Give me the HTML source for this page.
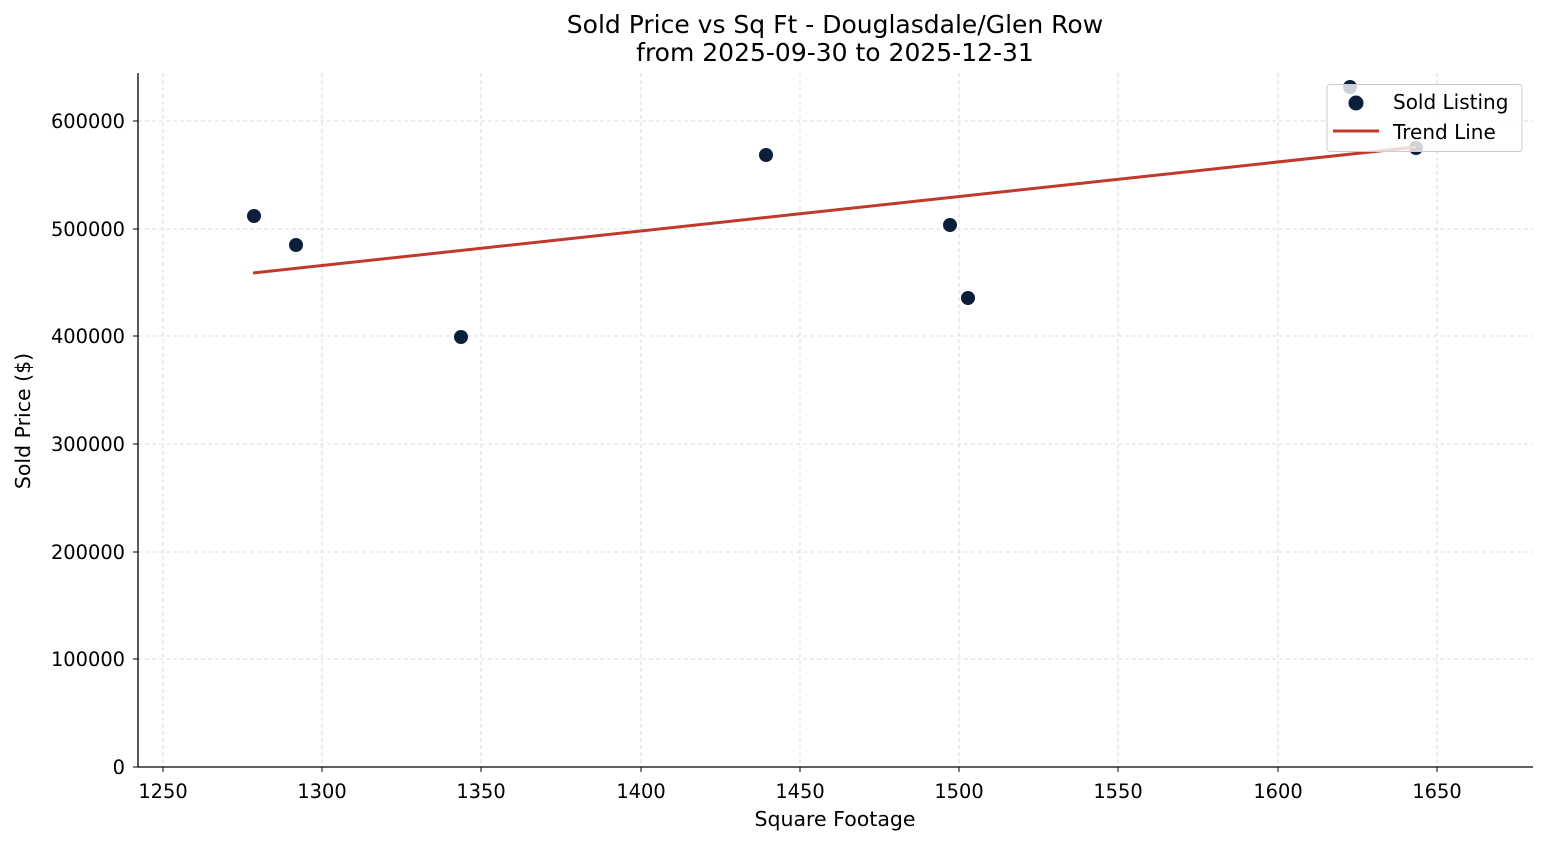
<!DOCTYPE html>
<html><head><meta charset="utf-8"><style>body{margin:0;background:#fff}svg{display:block}text{font-family:"DejaVu Sans","Liberation Sans",sans-serif;fill:#000}</style></head><body>
<svg width="1547" height="845" xmlns="http://www.w3.org/2000/svg">
<g stroke="#d3d3d3" stroke-width="0.8" stroke-dasharray="4,3">
<line x1="163" y1="73" x2="163" y2="767"/><line x1="322" y1="73" x2="322" y2="767"/><line x1="481" y1="73" x2="481" y2="767"/><line x1="641" y1="73" x2="641" y2="767"/><line x1="800" y1="73" x2="800" y2="767"/><line x1="959" y1="73" x2="959" y2="767"/><line x1="1118" y1="73" x2="1118" y2="767"/><line x1="1278" y1="73" x2="1278" y2="767"/><line x1="1437" y1="73" x2="1437" y2="767"/>
<line x1="138" y1="121" x2="1533" y2="121"/><line x1="138" y1="229" x2="1533" y2="229"/><line x1="138" y1="336" x2="1533" y2="336"/><line x1="138" y1="444" x2="1533" y2="444"/><line x1="138" y1="552" x2="1533" y2="552"/><line x1="138" y1="659" x2="1533" y2="659"/>
</g>
<g fill="#0b1f3a">
<circle cx="254" cy="216" r="7"/><circle cx="296" cy="245" r="7"/><circle cx="461" cy="337" r="7"/><circle cx="766" cy="155" r="7"/><circle cx="950" cy="225" r="7"/><circle cx="968" cy="298" r="7"/><circle cx="1350" cy="87" r="7"/><circle cx="1416" cy="148" r="7"/>
</g>
<line x1="253" y1="273" x2="1416" y2="147" stroke="#c0392b" stroke-width="3"/>
<rect x="1327" y="84.5" width="195" height="67" rx="3" fill="rgba(255,255,255,0.8)" stroke="#ccc"/>
<circle cx="1356" cy="103" r="7.5" fill="#0b1f3a"/>
<line x1="1333" y1="131" x2="1379" y2="131" stroke="#c0392b" stroke-width="3"/>
<text x="1393" y="109" font-size="20">Sold Listing</text>
<text x="1393" y="139" font-size="20">Trend Line</text>
<g stroke="#000" stroke-width="1.3"><line x1="138" y1="73" x2="138" y2="767"/><line x1="138" y1="767" x2="1533" y2="767"/></g>
<g stroke="#000" stroke-width="1">
<line x1="163" y1="767" x2="163" y2="772"/><line x1="322" y1="767" x2="322" y2="772"/><line x1="481" y1="767" x2="481" y2="772"/><line x1="641" y1="767" x2="641" y2="772"/><line x1="800" y1="767" x2="800" y2="772"/><line x1="959" y1="767" x2="959" y2="772"/><line x1="1118" y1="767" x2="1118" y2="772"/><line x1="1278" y1="767" x2="1278" y2="772"/><line x1="1437" y1="767" x2="1437" y2="772"/>
<line x1="133" y1="767" x2="138" y2="767"/><line x1="133" y1="659" x2="138" y2="659"/><line x1="133" y1="552" x2="138" y2="552"/><line x1="133" y1="444" x2="138" y2="444"/><line x1="133" y1="336" x2="138" y2="336"/><line x1="133" y1="229" x2="138" y2="229"/><line x1="133" y1="121" x2="138" y2="121"/>
</g>
<g font-size="19.4" text-anchor="middle">
<text x="163" y="798">1250</text><text x="322" y="798">1300</text><text x="481" y="798">1350</text><text x="641" y="798">1400</text><text x="800" y="798">1450</text><text x="959" y="798">1500</text><text x="1118" y="798">1550</text><text x="1278" y="798">1600</text><text x="1437" y="798">1650</text>
</g>
<g font-size="19.4" text-anchor="end">
<text x="125" y="774">0</text><text x="125" y="666">100000</text><text x="125" y="559">200000</text><text x="125" y="451">300000</text><text x="125" y="343">400000</text><text x="125" y="236">500000</text><text x="125" y="128">600000</text>
</g>
<text x="835" y="826" font-size="20.5" text-anchor="middle">Square Footage</text>
<text transform="translate(30,421) rotate(-90)" font-size="20.5" text-anchor="middle">Sold Price ($)</text>
<text x="835" y="33" font-size="25" text-anchor="middle">Sold Price vs Sq Ft - Douglasdale/Glen Row</text>
<text x="835" y="61" font-size="25" text-anchor="middle">from 2025-09-30 to 2025-12-31</text>
</svg>
</body></html>
